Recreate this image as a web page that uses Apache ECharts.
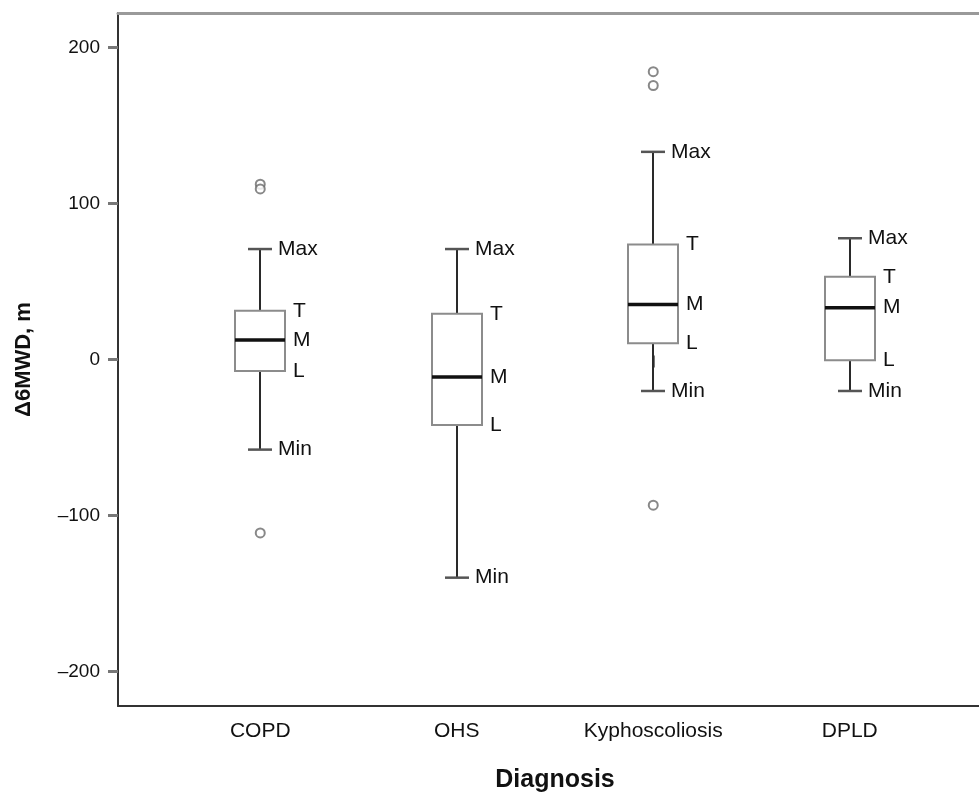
<!DOCTYPE html>
<html>
<head>
<meta charset="utf-8">
<script src="https://cdn.jsdelivr.net/npm/echarts@6/dist/echarts.min.js"></script>
<style>
html,body{margin:0;padding:0;background:#fff;}
#chart{width:979px;height:798px;}
</style>
</head>
<body>
<div id="chart"></div>
<script>
// ---- data ----
const categories = ['COPD', 'OHS', 'Kyphoscoliosis', 'DPLD'];
const whiskerMin = [-61, -144, -23, -23];
const q1 = [-10, -45, 8, -3];
const median = [10, -14, 33, 31];
const q3 = [29, 27, 72, 51];
const whiskerMax = [69, 69, 132, 76];
// outliers: [category index, value]
const outliers = [[0, 111], [0, 108], [0, -115], [2, 184], [2, 175], [2, -97]];
const boxLabels = ['Max', 'T', 'M', 'L', 'Min'];
const yTicks = [-200, -100, 0, 100, 200];
const yMin = -222, yMax = 222;

const FONT = '"Liberation Sans", Arial, Helvetica, sans-serif';

const boxData = categories.map((c, i) => [i, whiskerMin[i], q1[i], median[i], q3[i], whiskerMax[i]]);

const chart = echarts.init(document.getElementById('chart'), null, {renderer: 'canvas'});

function renderBox(params, api) {
  const idx = api.value(0);
  const vMin = api.value(1), vQ1 = api.value(2), vMed = api.value(3), vQ3 = api.value(4), vMax = api.value(5);
  const band = api.size([1, 0])[0];
  const half = Math.round(band * 0.125);
  const cap = Math.round(band * 0.062);
  const pMin = api.coord([idx, vMin]);
  const pQ1 = api.coord([idx, vQ1]);
  const pMed = api.coord([idx, vMed]);
  const pQ3 = api.coord([idx, vQ3]);
  const pMax = api.coord([idx, vMax]);
  const cx = Math.round(pMed[0]);
  const children = [
    {type: 'rect', z2: 1, shape: {x: cx - 1, y: pMax[1], width: 2, height: pMin[1] - pMax[1]}, style: {fill: '#2a2a2a'}},
    {type: 'rect', z2: 2, shape: {x: cx - half, y: pQ3[1], width: half * 2, height: pQ1[1] - pQ3[1]}, style: {fill: '#fff', stroke: '#8c8c8c', lineWidth: 2}},
    {type: 'line', z2: 3, shape: {x1: cx - cap, y1: pMax[1], x2: cx + cap, y2: pMax[1]}, style: {stroke: '#555', lineWidth: 2.5}},
    {type: 'line', z2: 3, shape: {x1: cx - cap, y1: pMin[1], x2: cx + cap, y2: pMin[1]}, style: {stroke: '#555', lineWidth: 2.5}},
    {type: 'line', z2: 3, shape: {x1: cx - half, y1: pMed[1], x2: cx + half, y2: pMed[1]}, style: {stroke: '#111', lineWidth: 3.5}}
  ];
  const labelPos = [
    [cx + cap + 6, pMax[1]],
    [cx + half + 8, pQ3[1]],
    [cx + half + 8, pMed[1]],
    [cx + half + 8, pQ1[1]],
    [cx + cap + 6, pMin[1]]
  ];
  labelPos.forEach((p, k) => {
    children.push({
      type: 'text', z2: 4, silent: true,
      style: {x: p[0], y: p[1], text: boxLabels[k], fill: '#111', font: '21px ' + FONT, align: 'left', verticalAlign: 'middle'}
    });
  });
  return {type: 'group', children: children};
}

const option = {
  backgroundColor: '#fff',
  animation: false,
  grid: [
    {left: 162, right: 31, top: 13, bottom: 92},
    {left: 118, right: 0, top: 13, bottom: 92}
  ],
  xAxis: [
    {
      gridIndex: 0, type: 'category', data: categories,
      axisLine: {show: false},
      axisTick: {show: true, alignWithLabel: true, length: 12, lineStyle: {color: '#777', width: 2}},
      axisLabel: {fontSize: 21, fontFamily: FONT, color: '#111', margin: 23},
      name: 'Diagnosis', nameLocation: 'middle', nameGap: 70,
      nameTextStyle: {fontSize: 25, fontWeight: 'bold', fontFamily: FONT, color: '#111'},
      splitLine: {show: false}
    },
    {
      gridIndex: 1, type: 'value', min: 0, max: 1,
      axisLine: {show: true, onZero: false, lineStyle: {color: '#333', width: 2}},
      axisTick: {show: false}, axisLabel: {show: false}, splitLine: {show: false}
    },
    {
      gridIndex: 1, type: 'value', min: 0, max: 1, position: 'top',
      axisLine: {show: true, onZero: false, lineStyle: {color: '#9a9a9a', width: 3}},
      axisTick: {show: false}, axisLabel: {show: false}, splitLine: {show: false}
    }
  ],
  yAxis: [
    {
      gridIndex: 0, type: 'value', min: yMin, max: yMax, show: false
    },
    {
      gridIndex: 1, type: 'value', min: yMin, max: yMax,
      axisLine: {show: true, onZero: false, lineStyle: {color: '#333', width: 2}},
      axisTick: {show: true, length: 10, customValues: yTicks, lineStyle: {color: '#777', width: 3}},
      axisLabel: {
        customValues: yTicks, fontSize: 19, fontFamily: FONT, color: '#111', margin: 18,
        formatter: v => (v < 0 ? '\u2013' + Math.abs(v) : String(v))
      },
      splitLine: {show: false},
      name: '\u03946MWD, m', nameLocation: 'middle', nameGap: 83, nameRotate: 90,
      nameTextStyle: {fontSize: 22, fontWeight: 'bold', fontFamily: FONT, color: '#111'}
    }
  ],
  series: [
    {
      type: 'custom', xAxisIndex: 0, yAxisIndex: 0,
      renderItem: renderBox,
      encode: {x: 0, y: [1, 2, 3, 4, 5]},
      data: boxData, z: 3
    },
    {
      type: 'scatter', xAxisIndex: 0, yAxisIndex: 0,
      symbol: 'emptyCircle', symbolSize: 9,
      itemStyle: {color: '#6a6a6a', borderColor: '#6a6a6a', borderWidth: 2},
      data: outliers, z: 4
    }
  ]
};
chart.setOption(option);
</script>
</body>
</html>
